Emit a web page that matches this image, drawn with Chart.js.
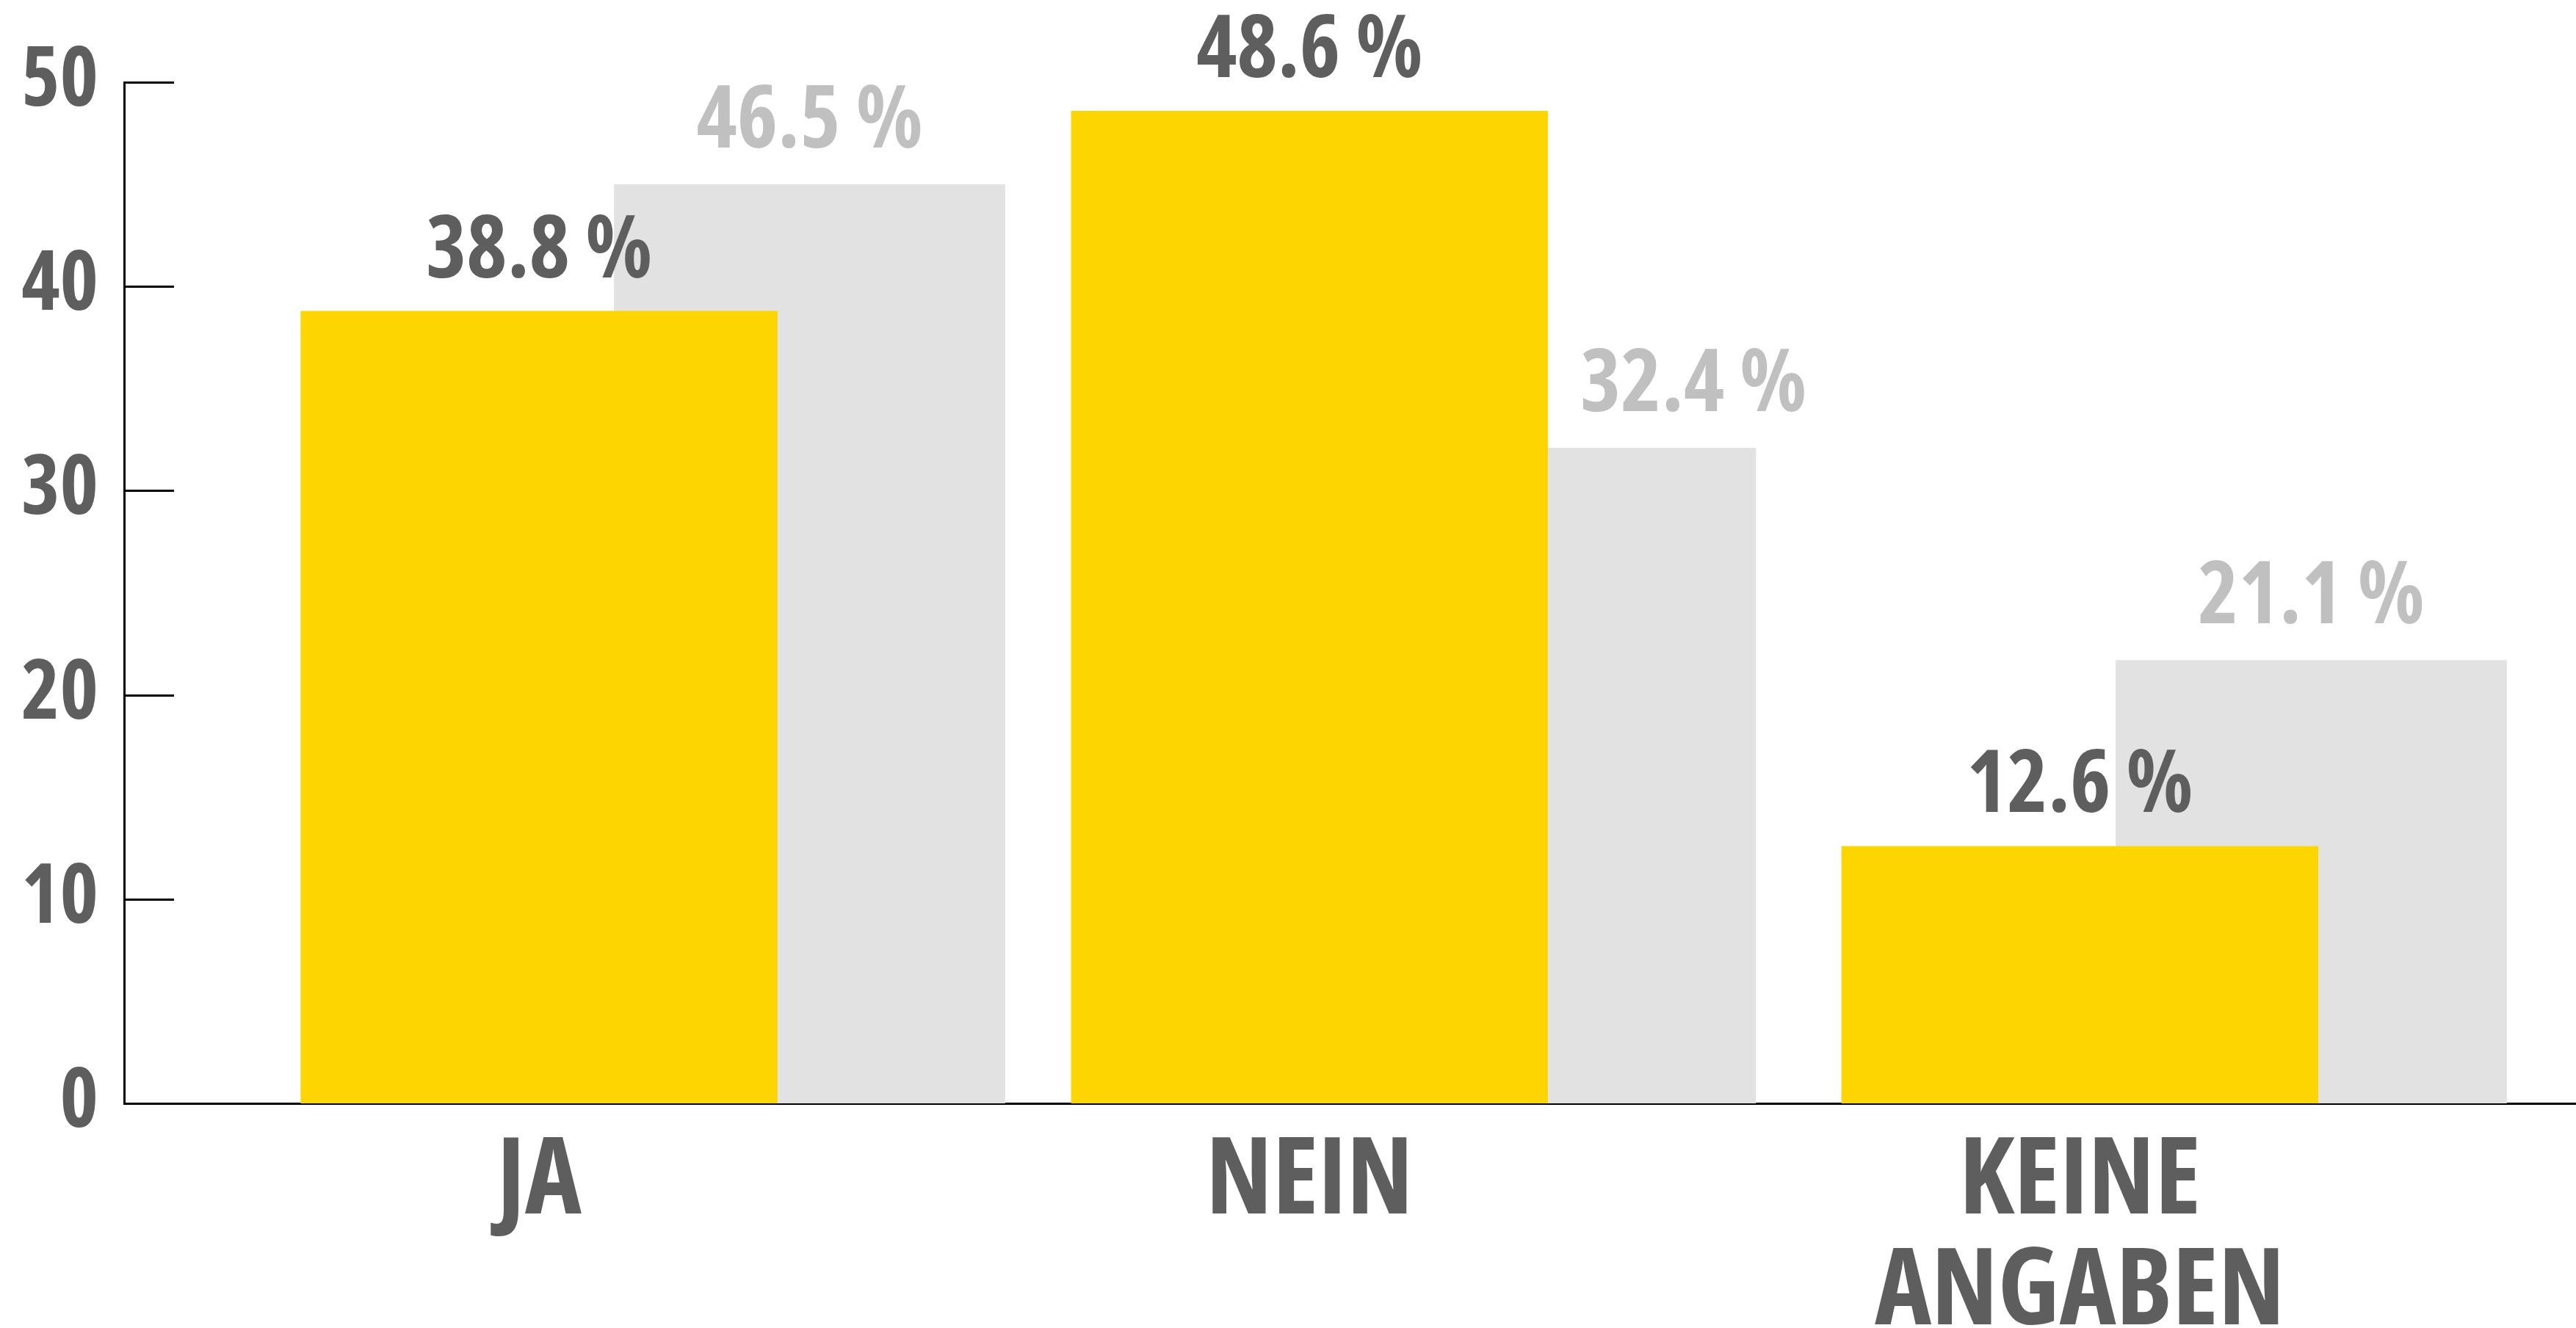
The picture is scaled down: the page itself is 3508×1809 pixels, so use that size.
<!DOCTYPE html>
<html lang="de">
<head>
<meta charset="UTF-8">
<title>Umfrage</title>
<script src="https://cdn.jsdelivr.net/npm/chart.js@4.4.1/dist/chart.umd.min.js"></script>
<style>
  * { margin: 0; padding: 0; box-sizing: border-box; }
  body { background: #fff; width: 3508px; height: 1809px; overflow: hidden; }
  #chart { display: block; }
</style>
</head>
<body>
<canvas id="chart" width="3508" height="1809"></canvas>
<script>
  // data
  const categories = ['JA', 'NEIN', 'KEINE ANGABEN'];
  const yellowValues = [38.8, 48.6, 12.6];
  const yellowLabels = ['38.8 %', '48.6 %', '12.6 %'];
  const greyValues = [45.0, 32.1, 21.7];      // drawn bar heights
  const greyLabels = ['46.5 %', '32.4 %', '21.1 %'];
  const yTicks = [0, 10, 20, 30, 40, 50];

  const FAMILY = "'Open Sans', 'Liberation Sans', sans-serif";
  const WEIGHT = 'bold condensed';   // Open Sans has a width axis
  const DARK = '#5e5e5e';
  const LIGHT = '#c0c0c0';
  const YELLOW = '#fdd500';
  const GREY = '#e2e2e2';

  const categoryTicks = s => { s.ticks = categories.map((c, i) => ({ value: i })); };

  // small tick marks pointing into the plot
  const inwardTicks = {
    id: 'inwardTicks',
    afterDatasetsDraw(chart) {
      const { ctx, chartArea } = chart;
      const y = chart.scales.y;
      ctx.save();
      ctx.strokeStyle = '#000';
      ctx.lineWidth = 3;
      y.ticks.forEach(t => {
        const py = Math.round(y.getPixelForValue(t.value)) + 0.5;
        ctx.beginPath();
        ctx.moveTo(chartArea.left, py);
        ctx.lineTo(chartArea.left + 68, py);
        ctx.stroke();
      });
      ctx.restore();
    }
  };

  // percentage labels above the bars
  const valueLabels = {
    id: 'valueLabels',
    afterDatasetsDraw(chart) {
      const ctx = chart.ctx;
      const yMeta = chart.getDatasetMeta(0);
      const gMeta = chart.getDatasetMeta(1);
      ctx.save();
      ctx.font = WEIGHT + ' 118px ' + FAMILY;
      ctx.textAlign = 'center';
      ctx.textBaseline = 'alphabetic';

      ctx.fillStyle = LIGHT;
      gMeta.data.forEach((bar, i) => {
        const yb = yMeta.data[i];
        const base = bar.y - 50;
        const w = ctx.measureText(greyLabels[i]).width;
        let x = bar.x;
        // move it clear of the yellow bar when they'd collide
        if (base > yb.y) {
          const minX = yb.x + yb.width / 2 + 44 + w / 2;
          if (x < minX) x = minX;
        }
        ctx.fillText(greyLabels[i], x, base);
      });

      ctx.fillStyle = DARK;
      yMeta.data.forEach((bar, i) => {
        ctx.fillText(yellowLabels[i], bar.x, bar.y - 46);
      });
      ctx.restore();
    }
  };

  new Chart(document.getElementById('chart'), {
    type: 'bar',
    data: {
      datasets: [
        {
          label: 'Gelb',
          data: yellowValues.map((v, i) => ({ x: i, y: v })),
          xAxisID: 'x',
          backgroundColor: YELLOW,
          categoryPercentage: 1,
          barPercentage: 0.619,
          grouped: false,
          order: 0
        },
        {
          label: 'Grau',
          data: greyValues.map((v, i) => ({ x: i, y: v })),
          xAxisID: 'x2',
          backgroundColor: GREY,
          categoryPercentage: 1,
          barPercentage: 0.521,
          grouped: false,
          order: 1
        }
      ]
    },
    options: {
      responsive: false,
      animation: false,
      devicePixelRatio: 1,
      layout: { padding: { top: 112, left: 0, right: 0, bottom: 0 } },
      plugins: { legend: { display: false }, tooltip: { enabled: false } },
      scales: {
        x: {
          type: 'linear',
          position: 'bottom',
          bounds: 'data',
          offset: false,
          min: -0.5386,
          max: 2.644,
          grid: { display: false, drawTicks: false },
          border: { display: true, color: '#000', width: 3 },
          ticks: {
            autoSkip: false,
            maxRotation: 0,
            padding: 32,
            color: DARK,
            font: { family: FAMILY, size: 146, weight: WEIGHT, lineHeight: 1.04 },
            callback: v => (Number.isInteger(v) && categories[v]) ? categories[v].split(' ') : ''
          },
          afterBuildTicks: categoryTicks,
          afterFit: s => { s.height = 306; }
        },
        x2: {
          type: 'linear',
          display: false,
          bounds: 'data',
          offset: false,
          min: -0.913,
          max: 2.3526,
          afterBuildTicks: categoryTicks
        },
        y: {
          min: yTicks[0],
          max: yTicks[yTicks.length - 1],
          grid: { display: false, drawTicks: false },
          border: { display: true, color: '#000', width: 3 },
          ticks: {
            stepSize: yTicks[1] - yTicks[0],
            padding: 35,
            color: DARK,
            font: { family: FAMILY, size: 112, weight: WEIGHT }
          },
          afterFit: s => { s.width = 169; }
        }
      }
    },
    plugins: [inwardTicks, valueLabels]
  });
</script>
</body>
</html>
